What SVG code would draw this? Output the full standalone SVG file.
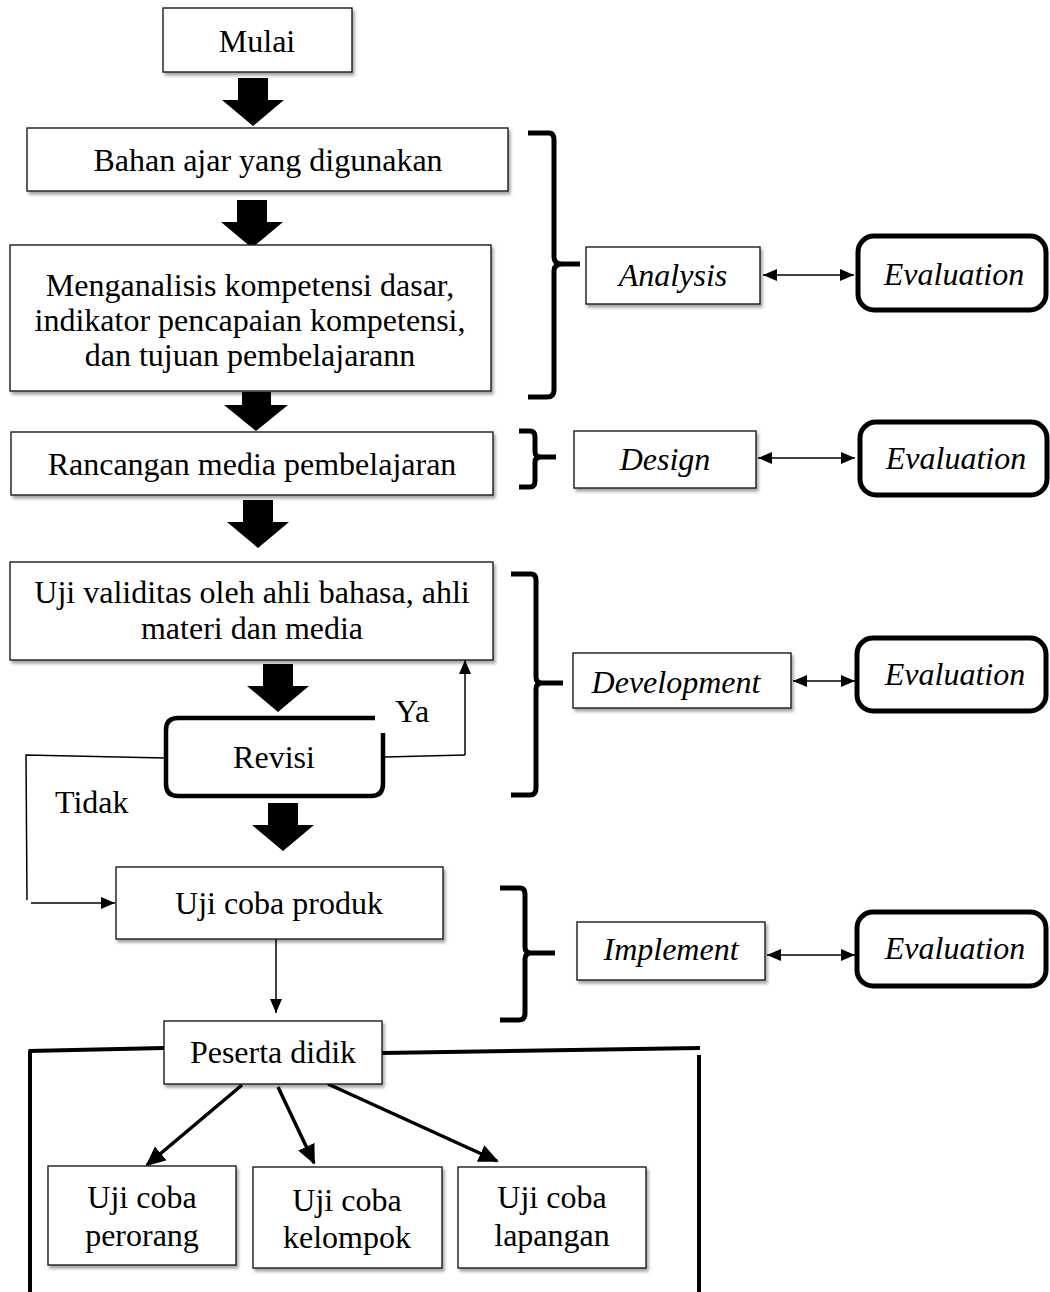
<svg xmlns="http://www.w3.org/2000/svg" width="1050" height="1292" viewBox="0 0 1050 1292">
<defs>
<style>
.box{fill:#fff;stroke:#1a1a1a;stroke-width:1.4;filter:url(#sh)}
.eval{fill:#fff;stroke:#000;stroke-width:5}
.t{font-family:"Liberation Serif","Times New Roman",serif;font-size:32px;fill:#000;text-anchor:middle}
.it{font-style:italic}
.ln{fill:none;stroke:#000;stroke-width:1.5}
.brk{fill:none;stroke:#000;stroke-width:5;stroke-linejoin:round}
.big{fill:#000}
.frame{fill:none;stroke:#000;stroke-width:4}
.thick{fill:none;stroke:#000;stroke-width:3.5}
</style>
<filter id="sh" x="-10%" y="-10%" width="130%" height="140%">
<feDropShadow dx="2" dy="3" stdDeviation="1.8" flood-color="#000" flood-opacity="0.35"/>
</filter>
<marker id="ah" viewBox="0 0 14 12" refX="14" refY="6" markerWidth="14" markerHeight="12" markerUnits="userSpaceOnUse" orient="auto-start-reverse">
<path d="M0,0 L14,6 L0,12 Z" fill="#000"/>
</marker>
<marker id="ahL" viewBox="0 0 20 18" refX="18" refY="9" markerWidth="20" markerHeight="18" markerUnits="userSpaceOnUse" orient="auto">
<path d="M0,0 L20,9 L0,18 Z" fill="#000"/>
</marker>
<path id="bigArrow" d="M-15,0 H15 V22 H31 L0,48 L-31,22 H-15 Z"/>
</defs>
<rect width="1050" height="1292" fill="#fff"/>

<g id="connectors">
<use href="#bigArrow" class="big" transform="translate(253,78)"/>
<use href="#bigArrow" class="big" transform="translate(252,200)"/>
<path class="big" d="M242,392 H271 V405 H288 L256,431 L224,405 H242 Z"/>
<use href="#bigArrow" class="big" transform="translate(258,500)"/>
<use href="#bigArrow" class="big" transform="translate(278,664)"/>
<use href="#bigArrow" class="big" transform="translate(283,803)"/>
<path class="brk" d="M528,133 H549 Q554,133 554,140 V257 Q554,264 562,264 H580 M562,264 Q554,264 554,271 V390 Q554,397 547,397 H528"/>
<path class="brk" d="M519,431 H530 Q535,431 535,437 V452 Q535,457 541,457 H556 M541,457 Q535,457 535,462 V481 Q535,487 530,487 H519"/>
<path class="brk" d="M511,574 H531 Q536,574 536,580 V677 Q536,683 542,683 H563 M542,683 Q536,683 536,689 V788 Q536,795 530,795 H511"/>
<path class="brk" d="M500,888 H520 Q525,888 525,894 V947 Q525,953 531,953 H555 M531,953 Q525,953 525,959 V1013 Q525,1020 519,1020 H500"/>
<line class="ln" x1="763" y1="275" x2="854" y2="275" marker-start="url(#ah)" marker-end="url(#ah)"/>
<line class="ln" x1="758" y1="458" x2="855" y2="458" marker-start="url(#ah)" marker-end="url(#ah)"/>
<line class="ln" x1="793" y1="681" x2="855" y2="681" marker-start="url(#ah)" marker-end="url(#ah)"/>
<line class="ln" x1="767" y1="955" x2="855" y2="955" marker-start="url(#ah)" marker-end="url(#ah)"/>
<polyline class="ln" points="385,757 465,755"/>
<line class="ln" x1="465" y1="755" x2="465" y2="660" marker-end="url(#ah)"/>
<polyline class="ln" points="165,758 26,755 27,900"/>
<line class="ln" x1="31" y1="903" x2="115" y2="903" marker-end="url(#ah)"/>
<line class="ln" x1="276" y1="939" x2="276" y2="1013" marker-end="url(#ah)"/>
<path class="frame" d="M28.5,1051 L164,1048 M382,1053 L700,1048 M30,1051 V1292 M699,1055 V1292"/>
<line class="thick" x1="242" y1="1085" x2="147" y2="1165" marker-end="url(#ahL)"/>
<line class="thick" x1="278" y1="1087" x2="314" y2="1163" marker-end="url(#ahL)"/>
<line class="thick" x1="328" y1="1084" x2="497" y2="1161" marker-end="url(#ahL)"/>
<text class="t" x="395" y="722" style="text-anchor:start">Ya</text>
<text class="t" x="55" y="813" style="text-anchor:start">Tidak</text>
</g>

<g id="mulai"><rect class="box" x="163" y="8" width="189" height="64"/><text class="t" x="257" y="52">Mulai</text></g>
<g id="bahan"><rect class="box" x="27" y="128" width="481" height="63"/><text class="t" x="268" y="171">Bahan ajar yang digunakan</text></g>
<g id="menganalisis"><rect class="box" x="10" y="245" width="481" height="146"/>
<text class="t" x="250" y="296">Menganalisis kompetensi dasar,</text>
<text class="t" x="250" y="331">indikator pencapaian kompetensi,</text>
<text class="t" x="250" y="366">dan tujuan pembelajarann</text></g>
<g id="rancangan"><rect class="box" x="11" y="432" width="482" height="63"/><text class="t" x="252" y="475">Rancangan media pembelajaran</text></g>
<g id="validitas"><rect class="box" x="10" y="562" width="483" height="98"/>
<text class="t" x="252" y="603">Uji validitas oleh ahli bahasa, ahli</text>
<text class="t" x="252" y="639">materi dan media</text></g>
<g id="revisi"><path d="M383,733 V784 Q383,796 371,796 H178 Q166,796 166,784 V730 Q166,718 178,718 H375" fill="#fff" stroke="#000" stroke-width="4.5"/>
<text class="t" x="274" y="768">Revisi</text></g>
<g id="produk"><rect class="box" x="116" y="867" width="327" height="72"/><text class="t" x="279" y="914">Uji coba produk</text></g>
<g id="peserta"><rect class="box" x="164" y="1021" width="218" height="63"/><text class="t" x="273" y="1063">Peserta didik</text></g>
<g id="perorang"><rect class="box" x="48" y="1166" width="188" height="99"/><text class="t" x="142" y="1208">Uji coba</text><text class="t" x="142" y="1246">perorang</text></g>
<g id="kelompok"><rect class="box" x="253" y="1167" width="189" height="101"/><text class="t" x="347" y="1211">Uji coba</text><text class="t" x="347" y="1248">kelompok</text></g>
<g id="lapangan"><rect class="box" x="458" y="1167" width="188" height="101"/><text class="t" x="552" y="1208">Uji coba</text><text class="t" x="552" y="1246">lapangan</text></g>

<g id="analysis"><rect class="box" x="586" y="247" width="174" height="57"/><text class="t it" x="673" y="286">Analysis</text></g>
<g id="design"><rect class="box" x="574" y="431" width="182" height="57"/><text class="t it" x="665" y="470">Design</text></g>
<g id="development"><rect class="box" x="573" y="653" width="218" height="55"/><text class="t it" x="676" y="693">Development</text></g>
<g id="implement"><rect class="box" x="577" y="922" width="188" height="58"/><text class="t it" x="671" y="960">Implement</text></g>

<g id="eval1"><rect class="eval" x="858" y="236" width="188" height="74" rx="16"/><text class="t it" x="954" y="285">Evaluation</text></g>
<g id="eval2"><rect class="eval" x="860" y="422" width="187" height="73" rx="16"/><text class="t it" x="956" y="469">Evaluation</text></g>
<g id="eval3"><rect class="eval" x="857" y="638" width="189" height="73" rx="16"/><text class="t it" x="955" y="685">Evaluation</text></g>
<g id="eval4"><rect class="eval" x="857" y="912" width="189" height="74" rx="16"/><text class="t it" x="955" y="959">Evaluation</text></g>
</svg>
